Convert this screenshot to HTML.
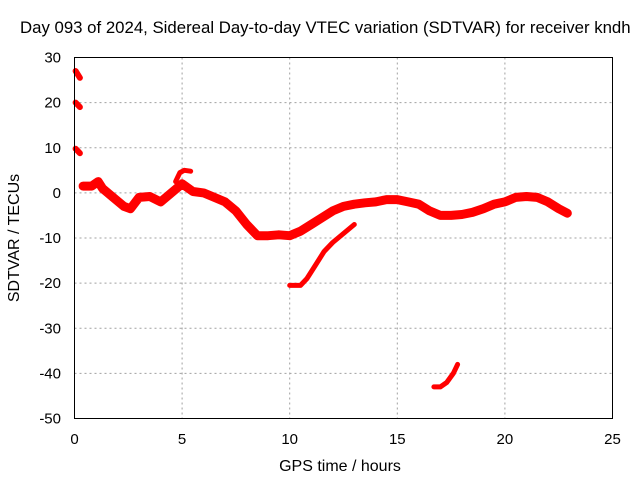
<!DOCTYPE html>
<html><head><meta charset="utf-8">
<style>
body{margin:0;background:#fff;}
svg text{font-family:"Liberation Sans",sans-serif;font-size:15px;fill:#000;}
</style></head>
<body>
<svg id="chart" width="640" height="480" xmlns="http://www.w3.org/2000/svg">
<g id="grid"></g>
<g id="series"></g>
<rect x="74.5" y="57.5" width="538" height="361" fill="none" stroke="#000" stroke-width="1"/>
<g id="ticks"></g>
<text x="20" y="33" style="font-size:16.8px">Day 093 of 2024, Sidereal Day-to-day VTEC variation (SDTVAR) for receiver kndh</text>
<text x="340" y="471" text-anchor="middle" style="font-size:16px">GPS time / hours</text>
<text transform="translate(19,238) rotate(-90)" text-anchor="middle" style="font-size:16px">SDTVAR / TECUs</text>
</svg>
<script>
const xTicks=[0,5,10,15,20,25];
const yTicks=[30,20,10,0,-10,-20,-30,-40,-50];
const mainHours=[0.4,0.8,1.1,1.3,1.8,2.3,2.6,3.0,3.5,4.0,4.5,5.0,5.5,6.0,6.5,7.0,7.5,8.0,8.5,9.0,9.5,10,10.5,11,11.5,12,12.5,13,13.5,14,14.5,15,15.5,16,16.5,17,17.5,18,18.5,19,19.5,20,20.5,21,21.5,22,22.5,22.9];
const mainValues=[1.5,1.5,2.5,1,-1,-3,-3.5,-1,-0.8,-2,0,2,0.3,0,-1,-2,-4,-7,-9.5,-9.5,-9.3,-9.5,-8.5,-7,-5.5,-4,-3,-2.5,-2.2,-2,-1.5,-1.5,-2,-2.5,-4,-5,-5,-4.8,-4.3,-3.5,-2.5,-2,-1,-0.8,-1,-2,-3.5,-4.5];
const bumpHours=[4.7,4.9,5.1,5.4];
const bumpValues=[2.5,4.5,5,4.8];
const branch2Hours=[10,10.5,10.8,11.2,11.6,12,12.5,13];
const branch2Values=[-20.5,-20.5,-19,-16,-13,-11,-9,-7];
const branch3Hours=[16.7,17.0,17.3,17.6,17.8];
const branch3Values=[-43,-43,-42,-40,-38];
const stub1Hours=[0.05,0.25];const stub1Values=[27,25.5];
const stub2Hours=[0.05,0.25];const stub2Values=[20,19];
const stub3Hours=[0.05,0.25];const stub3Values=[9.8,8.8];

const X0=74.5,X1=612.5,Y0=418.5,Y1=57.5;
const xs=h=>X0+(h-0)/(25-0)*(X1-X0);
const ys=v=>Y0-(v-(-50))/(30-(-50))*(Y0-Y1);
const NS="http://www.w3.org/2000/svg";
const grid=document.getElementById('grid'),ticks=document.getElementById('ticks'),series=document.getElementById('series');
function mk(t,a,p){const e=document.createElementNS(NS,t);for(const k in a)e.setAttribute(k,a[k]);p.appendChild(e);return e;}
xTicks.forEach(t=>{
  const x=xs(t);
  if(t>0&&t<25){const g=mk('line',{x1:x,x2:x,y1:Y1,y2:Y0,stroke:'#a0a0a0','stroke-dasharray':'2,3'},grid);
  
  }
  const l=mk('text',{x:x,y:444,'text-anchor':'middle'},ticks);l.textContent=t;
  
  
});
yTicks.forEach(t=>{
  const y=ys(t);
  if(t>-50&&t<30){const g=mk('line',{x1:X0,x2:X1,y1:y,y2:y,stroke:'#a0a0a0','stroke-dasharray':'2,3'},grid);
  
  }
  const l=mk('text',{x:61,y:y+5,'text-anchor':'end'},ticks);l.textContent=t;
  
  
});
function line(hs,vs,w,name){
  const d=hs.map((h,i)=>(i?'L':'M')+xs(h).toFixed(1)+','+ys(vs[i]).toFixed(1)).join('');
  const p=mk('path',{d:d,fill:'none',stroke:'#ff0000','stroke-width':w,'stroke-linejoin':'round','stroke-linecap':'round'},series);
  
  
}
line(mainHours,mainValues,9,'main-series');
line(bumpHours,bumpValues,5,'bump-series');
line(branch2Hours,branch2Values,5,'branch-series-2');
line(branch3Hours,branch3Values,5,'branch-series-3');
line(stub1Hours,stub1Values,6,'stub-series-1');
line(stub2Hours,stub2Values,6,'stub-series-2');
line(stub3Hours,stub3Values,6,'stub-series-3');
</script>
</body></html>
